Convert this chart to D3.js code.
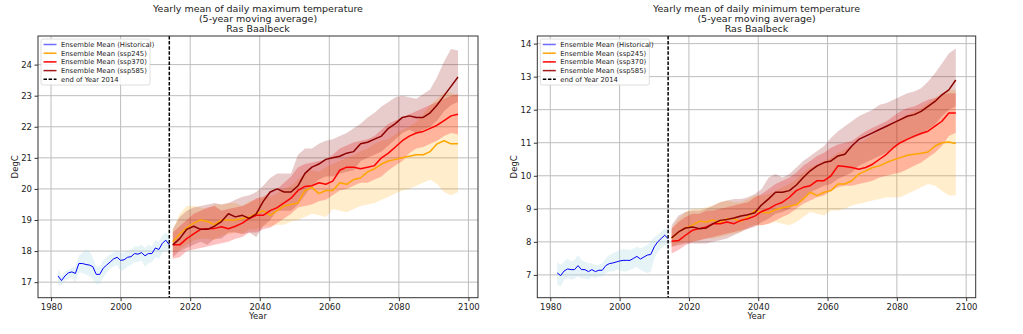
<!DOCTYPE html>
<html>
<head>
<meta charset="utf-8">
<script src="https://cdn.jsdelivr.net/npm/d3@7"></script>
<style>
  body { margin: 0; background: #fff; }
  text { font-family: "DejaVu Sans", sans-serif; fill: #222; }
</style>
</head>
<body>
<script>
'use strict';

// ---- data ----
var histYears = [1982,1983,1984,1985,1986,1987,1988,1989,1990,1991,1992,1993,1994,1995,1996,1997,1998,1999,2000,2001,2002,2003,2004,2005,2006,2007,2008,2009,2010,2011,2012,2013,2014];
var futYears = [2015,2017,2019,2021,2023,2025,2027,2029,2031,2033,2035,2037,2039,2041,2043,2045,2047,2049,2051,2053,2055,2057,2059,2061,2063,2065,2067,2069,2071,2073,2075,2077,2079,2081,2083,2085,2087,2089,2091,2093,2095,2097];
var xTicks = [1980, 2000, 2020, 2040, 2060, 2080, 2100];
var cutYear = 2014;

// daily maximum
var histMaxMean = [17.2,17.05,17.2,17.3,17.33,17.28,17.6,17.6,17.57,17.55,17.5,17.25,17.25,17.45,17.55,17.65,17.75,17.8,17.7,17.72,17.8,17.82,17.92,17.9,17.95,17.85,17.92,17.92,18.1,18.05,18.25,18.35,18.2];
var histMaxLo = [16.9,16.9,17.05,17.1,17.15,17.0,17.3,17.3,17.25,17.2,17.1,16.95,16.95,17.15,17.3,17.45,17.5,17.55,17.35,17.4,17.5,17.55,17.65,17.65,17.7,17.5,17.6,17.65,17.8,17.75,17.95,18.05,17.95];
var histMaxHi = [17.45,17.2,17.35,17.4,17.45,17.5,17.85,17.95,18.05,18.0,17.8,17.5,17.5,17.7,17.8,17.9,17.95,18.0,17.95,17.95,18.0,18.05,18.15,18.15,18.2,18.1,18.2,18.15,18.35,18.3,18.5,18.6,18.45];

var max245Mean = [18.3,18.55,18.75,18.9,19.0,18.95,18.85,19.0,19.0,19.0,19.05,19.1,19.2,19.3,19.15,19.3,19.45,19.5,19.55,19.95,20.05,19.85,19.95,19.95,20.2,20.15,20.3,20.35,20.55,20.65,20.8,20.9,20.95,21.0,21.05,21.1,21.1,21.2,21.45,21.55,21.45,21.45];
var max245Lo = [17.95,18.05,18.2,18.35,18.4,18.4,18.35,18.5,18.55,18.6,18.55,18.7,18.7,18.8,18.8,18.85,18.85,18.95,19.0,19.1,19.2,19.15,19.1,19.35,19.3,19.25,19.35,19.45,19.5,19.55,19.65,19.75,19.85,19.95,20.0,20.1,20.2,20.3,20.15,19.9,19.8,19.9];
var max245Hi = [18.7,19.2,19.45,19.45,19.4,19.35,19.5,19.5,19.55,19.55,19.45,19.6,19.65,19.75,19.75,19.85,20.0,20.1,20.3,20.5,20.6,20.55,20.7,20.8,20.9,21.0,21.1,21.2,21.3,21.45,21.55,21.6,21.75,21.9,22.0,22.15,22.4,22.7,22.9,23.1,23.1,23.0];

var max370Mean = [18.2,18.2,18.4,18.55,18.7,18.72,18.73,18.78,18.72,18.8,18.9,19.05,19.15,19.15,19.3,19.4,19.55,19.7,19.95,20.08,20.1,20.2,20.15,20.25,20.6,20.7,20.7,20.65,20.7,20.75,21.0,21.15,21.35,21.55,21.7,21.8,21.85,21.95,22.05,22.2,22.35,22.4];
var max370Lo = [17.75,17.8,18.0,18.05,18.1,18.15,18.2,18.25,18.3,18.4,18.45,18.6,18.6,18.7,18.75,18.9,19.05,19.2,19.4,19.45,19.5,19.6,19.65,19.8,19.95,20.0,20.1,20.2,20.2,20.3,20.4,20.6,20.75,20.9,21.15,21.3,21.35,21.45,21.55,21.7,21.8,21.75];
var max370Hi = [18.6,18.8,19.0,19.2,19.3,19.4,19.45,19.3,19.35,19.4,19.45,19.55,19.7,19.75,19.9,20.0,20.2,20.4,20.7,20.8,20.85,20.9,20.95,21.1,21.3,21.4,21.5,21.55,21.6,21.7,21.9,22.1,22.2,22.3,22.4,22.5,22.6,22.7,22.8,22.9,23.0,23.05];

var max585Mean = [18.2,18.4,18.7,18.8,18.7,18.7,18.8,18.95,19.2,19.1,19.15,19.05,19.2,19.6,19.9,20.0,19.9,19.9,20.1,20.5,20.7,20.8,20.95,21.0,21.05,21.15,21.2,21.45,21.5,21.6,21.7,21.95,22.1,22.3,22.35,22.3,22.3,22.45,22.7,23.0,23.3,23.6];
var max585Lo = [17.8,18.0,18.1,18.2,18.3,18.2,18.4,18.4,18.6,18.6,18.55,18.6,18.45,18.8,19.0,19.3,19.3,19.3,19.5,19.8,20.1,20.3,20.4,20.4,20.5,20.55,20.6,20.9,21.0,21.1,21.2,21.4,21.6,21.8,21.9,21.8,21.9,22.0,22.2,22.5,22.7,22.8];
var max585Hi = [18.7,19.1,19.3,19.4,19.45,19.5,19.55,19.5,19.55,19.65,19.75,19.8,19.9,20.1,20.35,20.5,20.5,20.5,21.1,21.3,21.3,21.45,21.55,21.6,21.7,21.8,21.95,22.1,22.3,22.45,22.65,22.8,22.95,23.0,22.95,22.9,23.05,23.2,23.6,24.1,24.5,24.45];

// daily minimum
var histMinMean = [7.06,6.98,7.12,7.18,7.16,7.16,7.28,7.16,7.16,7.1,7.16,7.1,7.14,7.14,7.28,7.34,7.36,7.39,7.42,7.44,7.44,7.44,7.5,7.56,7.48,7.54,7.6,7.62,7.85,8.0,8.1,8.2,8.1];
var histMinLo = [6.7,6.65,6.85,6.9,6.85,6.9,6.95,6.9,6.9,6.85,6.95,6.9,6.95,6.95,7.05,7.1,7.1,7.15,7.15,7.1,7.1,7.15,7.2,7.25,7.15,7.1,7.05,7.1,7.5,7.7,7.8,7.9,7.85];
var histMinHi = [7.4,7.3,7.4,7.5,7.4,7.45,7.6,7.45,7.4,7.35,7.35,7.3,7.3,7.35,7.5,7.6,7.65,7.7,7.75,7.78,7.78,7.75,7.8,7.85,7.8,7.85,7.9,8.0,8.15,8.2,8.3,8.4,8.35];

var min245Mean = [8.1,8.3,8.42,8.5,8.62,8.6,8.66,8.58,8.7,8.7,8.62,8.75,8.95,8.9,8.88,8.97,9.03,9.08,9.12,9.3,9.5,9.4,9.5,9.55,9.75,9.75,9.85,10.05,10.15,10.25,10.3,10.4,10.48,10.55,10.62,10.65,10.68,10.72,10.9,11.0,11.02,10.98];
var min245Lo = [7.85,7.95,8.0,8.0,8.05,8.1,8.1,8.15,8.2,8.25,8.3,8.45,8.5,8.5,8.55,8.6,8.55,8.5,8.6,8.75,8.9,8.85,8.8,8.95,8.95,9.0,9.1,9.15,9.2,9.25,9.3,9.35,9.35,9.35,9.45,9.55,9.65,9.75,9.7,9.55,9.4,9.4];
var min245Hi = [8.4,8.7,8.9,9.0,9.0,9.05,9.1,9.2,9.25,9.2,9.2,9.3,9.4,9.4,9.45,9.55,9.65,9.75,9.9,10.1,10.25,10.35,10.45,10.55,10.7,10.8,10.9,11.0,11.1,11.25,11.35,11.45,11.6,11.75,11.85,11.95,12.05,12.2,12.35,12.5,12.6,12.6];

var min370Mean = [8.02,8.04,8.2,8.35,8.4,8.45,8.55,8.55,8.6,8.55,8.65,8.7,8.78,8.92,9.0,9.12,9.2,9.35,9.55,9.65,9.7,9.85,9.85,10.0,10.3,10.28,10.25,10.2,10.25,10.35,10.5,10.65,10.85,11.0,11.1,11.2,11.28,11.35,11.5,11.65,11.9,11.9];
var min370Lo = [7.65,7.75,7.9,8.0,8.05,8.1,8.15,8.2,8.25,8.3,8.35,8.4,8.5,8.5,8.55,8.65,8.75,8.85,9.0,9.15,9.25,9.35,9.4,9.55,9.65,9.7,9.7,9.75,9.8,9.85,9.95,10.0,10.05,10.1,10.2,10.3,10.4,10.55,10.7,10.9,11.2,11.3];
var min370Hi = [8.4,8.6,8.75,8.85,8.85,8.95,8.95,9.0,9.05,9.1,9.15,9.2,9.35,9.45,9.6,9.75,9.85,9.95,10.1,10.3,10.45,10.6,10.7,10.85,10.95,11.0,11.05,11.2,11.35,11.45,11.55,11.65,11.8,11.95,12.05,12.1,12.2,12.3,12.35,12.45,12.5,12.5];

var min585Mean = [8.12,8.3,8.42,8.45,8.4,8.42,8.55,8.65,8.68,8.72,8.78,8.82,8.88,9.12,9.3,9.5,9.5,9.55,9.72,9.95,10.15,10.3,10.4,10.45,10.6,10.65,10.9,11.1,11.2,11.3,11.4,11.5,11.6,11.7,11.8,11.85,11.95,12.1,12.25,12.45,12.6,12.9];
var min585Lo = [7.85,7.9,7.95,7.95,7.95,7.95,8.0,8.05,8.1,8.2,8.3,8.4,8.45,8.6,8.7,8.85,8.9,9.0,9.15,9.3,9.5,9.6,9.7,9.75,9.9,10.0,10.1,10.3,10.4,10.5,10.6,10.7,10.85,11.0,11.1,11.15,11.25,11.4,11.55,11.8,12.0,12.1];
var min585Hi = [8.5,8.8,8.9,8.95,8.95,9.0,9.1,9.2,9.25,9.3,9.3,9.35,9.45,9.6,9.95,10.05,9.95,10.05,10.25,10.45,10.6,10.75,10.9,11.15,11.35,11.5,11.65,11.8,11.9,12.0,12.15,12.2,12.3,12.4,12.5,12.55,12.65,12.85,13.1,13.4,13.7,13.85];

var legendLabels = ['Ensemble Mean (Historical)', 'Ensemble Mean (ssp245)', 'Ensemble Mean (ssp370)', 'Ensemble Mean (ssp585)', 'end of Year 2014'];
var legendColors = ['#6f6fff', 'orange', 'red', '#a01c1c', '#000'];

var svg = d3.select('body').append('svg').attr('width', 1023).attr('height', 334);

function zip(years, mean, lo, hi) {
    if (years.length !== mean.length || years.length !== lo.length || years.length !== hi.length) {
        throw new Error('length mismatch ' + years.length + ' ' + mean.length + ' ' + lo.length + ' ' + hi.length);
    }
    return years.map(function(yr, i) { return { yr: yr, m: mean[i], lo: lo[i], hi: hi[i] }; });
}

function drawPanel(p) {
    var x = d3.scaleLinear().domain([1976.25, 2102.75]).range([p.left, p.right]);
    var y = d3.scaleLinear().domain(p.yDomain).range([p.bottom, p.top]);
    var g = svg.append('g');

    // grid
    g.selectAll('.gx').data(xTicks).enter().append('line')
        .attr('x1', function(d) { return x(d); }).attr('x2', function(d) { return x(d); })
        .attr('y1', p.top).attr('y2', p.bottom)
        .attr('stroke', '#bdbdbd').attr('stroke-width', 1);
    g.selectAll('.gy').data(p.yTicks).enter().append('line')
        .attr('x1', p.left).attr('x2', p.right)
        .attr('y1', function(d) { return y(d); }).attr('y2', function(d) { return y(d); })
        .attr('stroke', '#bdbdbd').attr('stroke-width', 1);

    var area = d3.area().x(function(d) { return x(d.yr); })
        .y0(function(d) { return y(d.lo); }).y1(function(d) { return y(d.hi); });
    var line = d3.line().x(function(d) { return x(d.yr); }).y(function(d) { return y(d.m); });

    // bands
    p.series.forEach(function(s) {
        g.append('path').datum(s.rows).attr('d', area)
            .attr('fill', s.band).attr('fill-opacity', s.bandOpacity);
    });
    // means
    p.series.forEach(function(s) {
        g.append('path').datum(s.rows).attr('d', line)
            .attr('fill', 'none').attr('stroke', s.color).attr('stroke-width', s.width)
            .attr('stroke-linejoin', 'round');
    });

    // end of 2014
    g.append('line')
        .attr('x1', x(cutYear)).attr('x2', x(cutYear))
        .attr('y1', p.top).attr('y2', p.bottom)
        .attr('stroke', '#000').attr('stroke-width', 1.5).attr('stroke-dasharray', '3.5,1.6');

    // frame
    g.append('rect').attr('x', p.left).attr('y', p.top)
        .attr('width', p.right - p.left).attr('height', p.bottom - p.top)
        .attr('fill', 'none').attr('stroke', '#333').attr('stroke-width', 1);

    // axes
    var ax = g.append('g').attr('transform', 'translate(0,' + p.bottom + ')')
        .call(d3.axisBottom(x).tickValues(xTicks).tickSize(3.5).tickPadding(2.5).tickFormat(d3.format('d')));
    var ay = g.append('g').attr('transform', 'translate(' + p.left + ',0)')
        .call(d3.axisLeft(y).tickValues(p.yTicks).tickSize(3.5).tickPadding(2.5).tickFormat(d3.format('d')));
    [ax, ay].forEach(function(a) {
        a.select('.domain').remove();
        a.selectAll('.tick line').attr('stroke', '#333');
        a.selectAll('.tick text').style('font-size', '8.5px').style('font-family', '"DejaVu Sans", sans-serif').attr('fill', '#222');
    });

    var cx = (p.left + p.right) / 2;
    g.append('text').attr('x', cx).attr('y', 319).attr('text-anchor', 'middle')
        .style('font-size', '8.5px').text('Year');
    g.append('text').attr('transform', 'translate(' + (p.left - 20.5) + ',' + ((p.top + p.bottom) / 2) + ') rotate(-90)')
        .attr('text-anchor', 'middle').style('font-size', '8.5px').text('DegC');

    p.title.forEach(function(t, i) {
        g.append('text').attr('x', cx).attr('y', 11.5 + i * 10).attr('text-anchor', 'middle')
            .style('font-size', '9.5px').text(t);
    });

    // legend
    var lg = g.append('g').attr('transform', 'translate(' + (p.left + 3) + ',' + (p.top + 3) + ')');
    lg.append('rect').attr('width', 109).attr('height', 46).attr('rx', 2)
        .attr('fill', '#fff').attr('fill-opacity', 0.85).attr('stroke', '#d6d6d6').attr('stroke-width', 0.8);
    legendLabels.forEach(function(lab, i) {
        var yy = 5.5 + i * 8.7;
        lg.append('line').attr('x1', 2.5).attr('x2', 15.5).attr('y1', yy).attr('y2', yy)
            .attr('stroke', legendColors[i]).attr('stroke-width', 1.5)
            .attr('stroke-dasharray', i === 4 ? '3.5,1.6' : null);
        lg.append('text').attr('x', 20).attr('y', yy + 2.3).style('font-size', '6.8px').text(lab);
    });
}

function makeSeries(hm, hl, hh, m245, l245, h245, m370, l370, h370, m585, l585, h585) {
    return [
        { rows: zip(histYears, hm, hl, hh), color: 'blue', width: 1, band: 'lightblue', bandOpacity: 0.3 },
        { rows: zip(futYears, m245, l245, h245), color: 'orange', width: 1.5, band: 'orange', bandOpacity: 0.2 },
        { rows: zip(futYears, m370, l370, h370), color: 'red', width: 1.5, band: 'red', bandOpacity: 0.24 },
        { rows: zip(futYears, m585, l585, h585), color: '#8b0000', width: 1.5, band: '#8b0000', bandOpacity: 0.2 }
    ];
}

drawPanel({
    left: 38, right: 478, top: 36, bottom: 297.7,
    yDomain: [16.5, 24.92], yTicks: [17, 18, 19, 20, 21, 22, 23, 24],
    title: ['Yearly mean of daily maximum temperature', '(5-year moving average)', 'Ras Baalbeck'],
    series: makeSeries(histMaxMean, histMaxLo, histMaxHi, max245Mean, max245Lo, max245Hi,
                       max370Mean, max370Lo, max370Hi, max585Mean, max585Lo, max585Hi)
});

drawPanel({
    left: 537.3, right: 975.7, top: 36, bottom: 297.7,
    yDomain: [6.31, 14.23], yTicks: [7, 8, 9, 10, 11, 12, 13, 14],
    title: ['Yearly mean of daily minimum temperature', '(5-year moving average)', 'Ras Baalbeck'],
    series: makeSeries(histMinMean, histMinLo, histMinHi, min245Mean, min245Lo, min245Hi,
                       min370Mean, min370Lo, min370Hi, min585Mean, min585Lo, min585Hi)
});
</script>
</body>
</html>
